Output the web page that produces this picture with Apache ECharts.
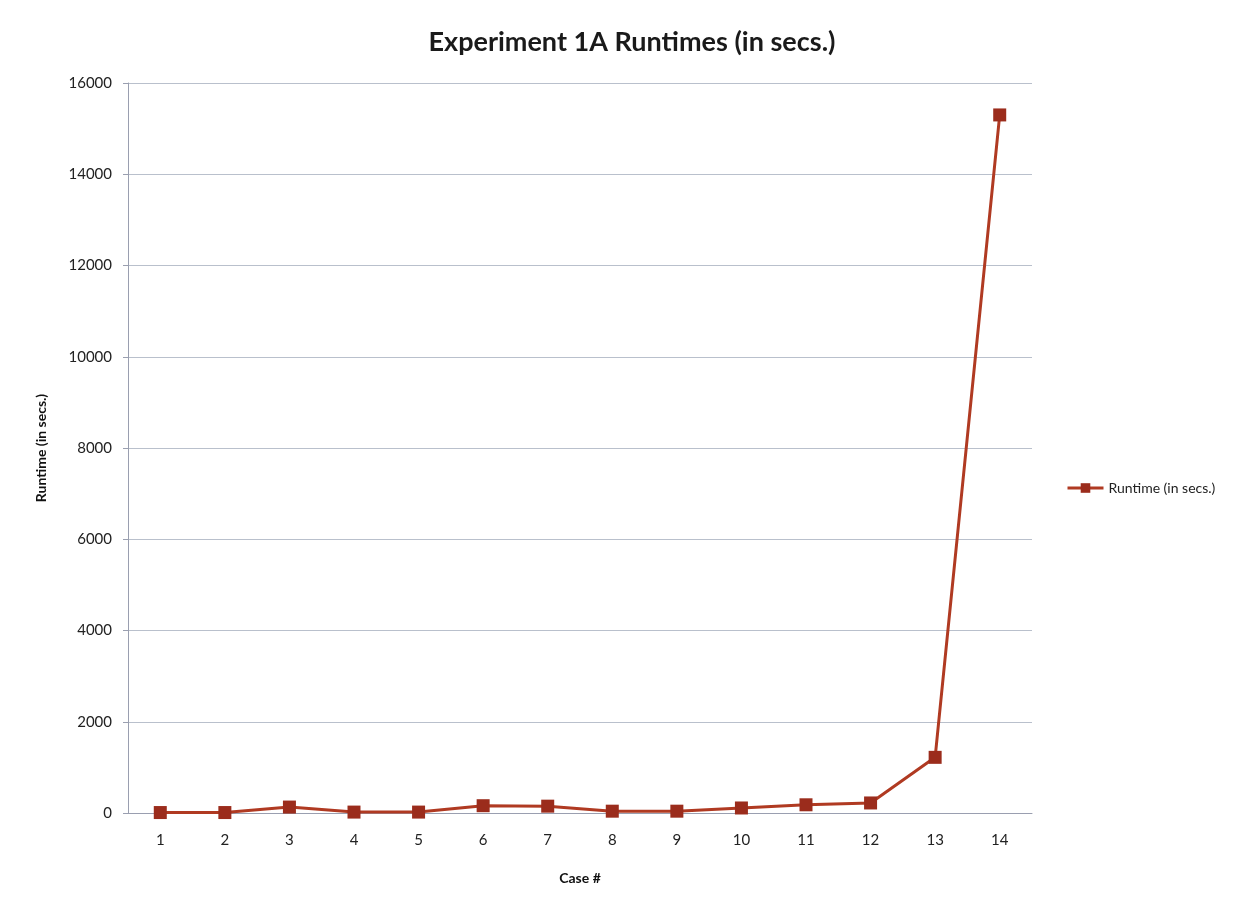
<!DOCTYPE html>
<html>
<head>
<meta charset="utf-8">
<script src="https://cdn.jsdelivr.net/npm/echarts@6/dist/echarts.min.js"></script>
<style>
html,body{margin:0;padding:0;background:#fff;}
#main{width:1250px;height:909px;}
</style>
</head>
<body>
<div id="main"></div>
<script>
const categories = ['1','2','3','4','5','6','7','8','9','10','11','12','13','14'];
const runtimes = [10, 10, 130, 20, 20, 160, 150, 40, 40, 110, 180, 220, 1220, 15300];
const seriesName = 'Runtime (in secs.)';
const titleText = 'Experiment 1A Runtimes (in secs.)';

const chart = echarts.init(document.getElementById('main'));
const font = 'Lato, "Open Sans", sans-serif';
chart.setOption({
  backgroundColor: '#fff',
  animation: false,
  title: {
    text: titleText,
    left: 627, top: 24, textAlign: 'center',
    textStyle: {fontFamily: font, fontSize: 27, fontWeight: 'bold', color: '#1a1a1a'}
  },
  legend: {
    orient: 'vertical', left: 1061, top: 476,
    itemWidth: 36, itemHeight: 12, itemGap: 10,
    lineStyle: {width: 3},
    textStyle: {fontFamily: font, fontSize: 14, color: '#222'},
    data: [seriesName]
  },
  grid: {left: 128, right: 218, top: 83, bottom: 96, containLabel: false},
  xAxis: {
    type: 'category', data: categories, boundaryGap: true,
    name: 'Case #', nameLocation: 'middle', nameGap: 58,
    nameTextStyle: {fontFamily: font, fontSize: 14, fontWeight: 'bold', color: '#111'},
    axisLine: {lineStyle: {color: '#9a9fb0', width: 1}},
    axisTick: {show: false},
    axisLabel: {fontFamily: font, fontSize: 15, color: '#222', margin: 20}
  },
  yAxis: {
    type: 'value', min: 0, max: 16000, interval: 2000,
    name: 'Runtime (in secs.)', nameLocation: 'middle', nameGap: 80, nameRotate: 90,
    nameTextStyle: {fontFamily: font, fontSize: 14, fontWeight: 'bold', color: '#111'},
    axisLine: {show: true, lineStyle: {color: '#9a9fb0', width: 1}},
    axisTick: {show: true, length: 5, lineStyle: {color: '#9a9fb0'}},
    axisLabel: {fontFamily: font, fontSize: 15, color: '#222', margin: 16,
      formatter: v => String(v)},
    splitLine: {lineStyle: {color: '#b9c0cc', width: 1}}
  },
  series: [{
    name: seriesName, type: 'line', data: runtimes,
    symbol: 'rect', symbolSize: 13,
    lineStyle: {color: '#b03a22', width: 3},
    itemStyle: {color: '#9b2c1c'}
  }]
});
</script>
</body>
</html>
